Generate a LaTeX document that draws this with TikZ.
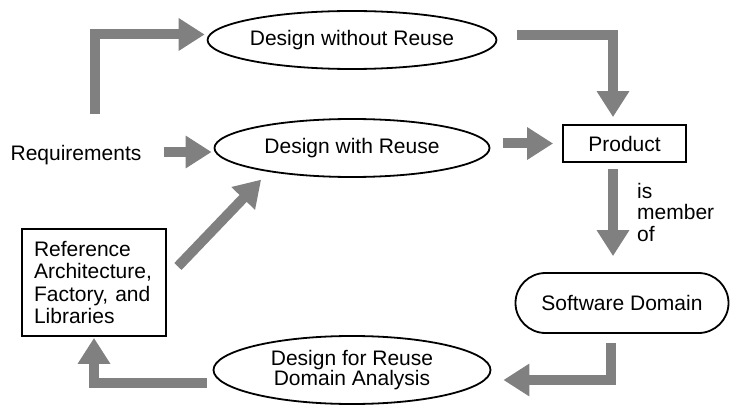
\documentclass[tikz,border=0pt]{standalone}
\usepackage{fontspec}
\setmainfont{Liberation Sans}
\usetikzlibrary{arrows.meta,shapes.geometric,shapes.misc,calc}

\begin{document}
\begin{tikzpicture}[x=1pt,y=-1pt,
  every node/.style={font=\fontsize{21}{22}\selectfont},
  oval/.style={ellipse,draw,line width=1.8pt,minimum width=275pt,minimum height=58pt,inner sep=0pt},
  boxnode/.style={rectangle,draw,line width=1.8pt,inner sep=0pt},
  bigarrow/.style={draw=gray,line width=10pt,line join=miter,line cap=butt,
    -{Triangle[length=26pt,width=31pt]}}
]
\useasboundingbox (0,0) rectangle (730,406);

% process nodes
\node[oval] (dwo) at (352,40) {Design without Reuse};
\node[oval] (dw)  at (352,148) {Design with Reuse};
\node[oval,minimum width=277pt,minimum height=68pt,align=center,
      font=\fontsize{21}{20}\selectfont] (dfr) at (352,370)
      {Design for Reuse\\Domain Analysis};
\node[boxnode,minimum width=123pt,minimum height=37pt] (prod) at (624.5,143.5) {Product};
\node[rounded rectangle,draw,line width=1.8pt,minimum width=213pt,minimum height=60pt,
      inner sep=0pt] (sd) at (622,303) {Software Domain};
\node[boxnode,minimum width=144pt,minimum height=107pt,text width=120pt,align=left,
      inner xsep=12pt,font=\fontsize{21}{22.5}\selectfont] (ref) at (94,282.5)
      {Reference\\Architecture,\\Factory, and\\Libraries};
\node[inner sep=0pt] (req) at (76,155) {Requirements};
\node[inner sep=0pt,align=left,anchor=west,font=\fontsize{21}{21.5}\selectfont]
      (mem) at (637,212) {is\\member\\of};

% flow arrows
\draw[bigarrow] ([xshift=19pt,yshift=31pt]req.north) |- ([yshift=5.5pt,xshift=-2pt]dwo.west);
\draw[bigarrow,shorten <=22pt,shorten >=2pt] ([yshift=3pt]req.east) -- ([yshift=3pt]req.east -| dw.west);
\draw[bigarrow,shorten <=19.5pt] ([yshift=5pt]dwo.east) -| ([xshift=-11.5pt,yshift=7pt]prod.north);
\draw[bigarrow,shorten <=12.5pt,shorten >=9pt] (dw.east |- prod.west) -- (prod.west);
\draw[bigarrow,shorten <=6pt,shorten >=16pt] ([xshift=-11.5pt]prod.south) -- ([xshift=-11.5pt]prod.south |- sd.north);
\draw[bigarrow,shorten <=9pt] ([xshift=-11pt]sd.south) |- ([yshift=-10pt,xshift=12pt]dfr.east);
\draw[bigarrow,shorten <=6pt,shorten >=1pt] ([yshift=-13pt]dfr.west) -| (ref.south);
\draw[bigarrow] ([xshift=11pt,yshift=16pt]ref.east) -- ([xshift=7pt,yshift=-10.5pt]dw.south west);
\end{tikzpicture}
\end{document}
